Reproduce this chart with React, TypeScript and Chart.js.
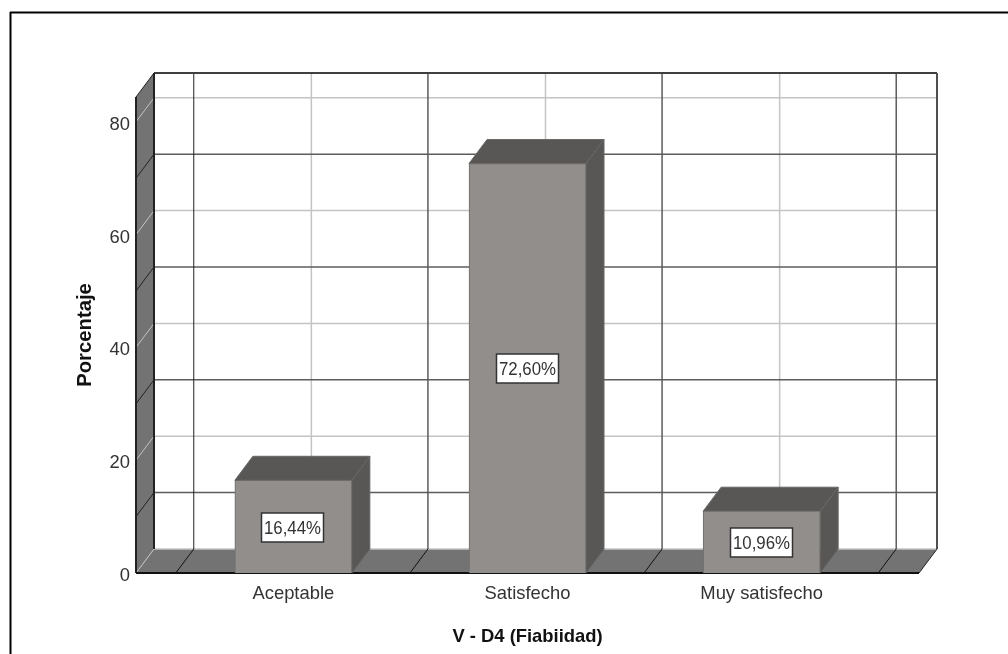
import React, { useEffect, useRef } from "react";
import { Chart, registerables } from "chart.js";

Chart.register(...registerables);

const categories = ["Aceptable", "Satisfecho", "Muy satisfecho"];
const percentages = [16.44, 72.6, 10.96];
const barLabels = ["16,44%", "72,60%", "10,96%"];
const yTickValues = [0, 20, 40, 60, 80];
const darkWallLines = [10, 30, 50, 70];
const lightWallLines = [20, 40, 60, 80];
const darkColumnLines = [-0.5, 0.5, 1.5, 2.5];
const lightColumnLines = [0, 1, 2];
const yTop = 84.4;
const xMin = -0.672;
const xMax = 2.672;
const xTitle = "V - D4 (Fiabiidad)";
const yTitle = "Porcentaje";

const DX = 18;
const DY = -24;
const FONT = "'Liberation Sans', Arial, sans-serif";
const WALL = "#737373";
const DARK = "#5c5c5c";
const LIGHT = "#c4c4c4";
const SHADE = "#595755";
const FACE = "#928e8c";
const EDGE = "#6e6b69";

function line(ctx: CanvasRenderingContext2D, x1: number, y1: number, x2: number, y2: number, color: string, width: number) {
  ctx.strokeStyle = color;
  ctx.lineWidth = width;
  ctx.beginPath();
  ctx.moveTo(x1, y1);
  ctx.lineTo(x2, y2);
  ctx.stroke();
}

function quad(ctx: CanvasRenderingContext2D, pts: number[][], fill: string, stroke?: string) {
  ctx.beginPath();
  pts.forEach((p, i) => (i ? ctx.lineTo(p[0], p[1]) : ctx.moveTo(p[0], p[1])));
  ctx.closePath();
  ctx.fillStyle = fill;
  ctx.fill();
  if (stroke) {
    ctx.strokeStyle = stroke;
    ctx.lineWidth = 1;
    ctx.stroke();
  }
}

const box3d = {
  id: "box3d",
  beforeDatasetsDraw(chart: any) {
    const { ctx, scales } = chart;
    const { x, y } = scales;
    const L = x.getPixelForValue(xMin);
    const R = x.getPixelForValue(xMax);
    const B = y.getPixelForValue(0);
    const T = y.getPixelForValue(yTop);
    ctx.save();
    // outer frame (open at right and bottom)
    line(ctx, 10.5, 12, 10.5, chart.height, "#000", 2);
    line(ctx, 10, 12.5, chart.width, 12.5, "#000", 2);
    // walls
    quad(ctx, [[L, T], [L + DX, T + DY], [L + DX, B + DY], [L, B]], WALL);
    quad(ctx, [[L, B], [L + DX, B + DY], [R + DX, B + DY], [R, B]], WALL);
    // back wall grid
    lightColumnLines.forEach((c) => {
      const px = x.getPixelForValue(c) + DX;
      line(ctx, px, T + DY, px, B + DY, LIGHT, 1.5);
    });
    lightWallLines.forEach((v) => {
      const py = y.getPixelForValue(v);
      line(ctx, L + DX, py + DY, R + DX, py + DY, LIGHT, 1.5);
      line(ctx, L, py, L + DX, py + DY, LIGHT, 1);
    });
    line(ctx, L + DX, B + DY, R + DX, B + DY, LIGHT, 1.5);
    line(ctx, L, B, L + DX, B + DY, LIGHT, 1);
    darkWallLines.forEach((v) => {
      const py = y.getPixelForValue(v);
      line(ctx, L + DX, py + DY, R + DX, py + DY, DARK, 1.5);
      line(ctx, L, py, L + DX, py + DY, "#222", 1);
    });
    darkColumnLines.forEach((c, i) => {
      const px = x.getPixelForValue(c) - 0.5;
      line(ctx, px + DX, T + DY, px + DX, B + DY, i === 0 ? "#222" : DARK, i === 0 ? 1 : 1.5);
      line(ctx, px, B, px + DX, B + DY, "#111", 1);
    });
    // box edges
    line(ctx, L + DX, T + DY, R + DX, T + DY, "#404040", 2);
    line(ctx, L + DX, T + DY, L + DX, B + DY, "#222", 2);
    line(ctx, R + DX, T + DY, R + DX, B + DY, "#505050", 2);
    line(ctx, L, T, L, B, "#222", 2);
    line(ctx, L, T, L + DX, T + DY, "#222", 1);
    line(ctx, L, B, R, B, "#111", 2);
    line(ctx, R, B, R + DX, B + DY, "#222", 1);
    // bar top and side faces
    chart.getDatasetMeta(0).data.forEach((bar: any) => {
      const half = bar.width / 2;
      const l = bar.x - half;
      const r = bar.x + half;
      const t = bar.y;
      const b = bar.base;
      quad(ctx, [[r, t], [r + DX, t + DY], [r + DX, b + DY], [r, b]], SHADE, "#666");
      quad(ctx, [[l, t], [l + DX, t + DY], [r + DX, t + DY], [r, t]], SHADE, "#666");
    });
    ctx.restore();
  },
  afterDatasetsDraw(chart: any) {
    const { ctx } = chart;
    ctx.save();
    ctx.font = `18.4px ${FONT}`;
    ctx.textAlign = "center";
    ctx.textBaseline = "middle";
    chart.getDatasetMeta(0).data.forEach((bar: any, i: number) => {
      const text = barLabels[i];
      const w = 62;
      const h = 29;
      const cy = Math.round((bar.y + bar.base) / 2) + 0.5;
      const cx = Math.round(bar.x) - 0.5;
      ctx.fillStyle = "#fff";
      ctx.fillRect(cx - w / 2, cy - h / 2, w, h);
      ctx.strokeStyle = "#333";
      ctx.lineWidth = 1.5;
      ctx.strokeRect(cx - w / 2, cy - h / 2, w, h);
      ctx.fillStyle = "#333";
      ctx.fillText(text, cx, cy + 1, 57);
    });
    ctx.restore();
  },
};

export default function App() {
  const ref = useRef<HTMLCanvasElement>(null);
  useEffect(() => {
    const chart = new Chart(ref.current!, {
      type: "bar",
      data: {
        datasets: [
          {
            label: "Porcentaje",
            data: percentages.map((v, i) => ({ x: i, y: v })),
            backgroundColor: FACE,
            borderColor: EDGE,
            borderWidth: 1,
            barThickness: 117,
          },
        ],
      },
      plugins: [box3d],
      options: {
        animation: false,
        responsive: false,
        layout: { padding: { top: 97, right: 89, left: 0, bottom: 0 } },
        plugins: { legend: { display: false }, tooltip: { enabled: false } },
        scales: {
          x: {
            type: "linear",
            offset: false,
            min: xMin,
            max: xMax,
            afterBuildTicks: (s: any) => {
              s.ticks = categories.map((_, i) => ({ value: i }));
            },
            afterFit: (s: any) => {
              s.height = 81;
            },
            grid: { display: false, drawTicks: false },
            border: { display: false },
            ticks: {
              padding: 10,
              color: "#333",
              maxRotation: 0,
              autoSkip: false,
              font: { family: FONT, size: 18.4 },
              callback: (v: any) => categories[v] ?? "",
            },
            title: {
              display: true,
              text: xTitle,
              color: "#111",
              font: { family: FONT, size: 18.4, weight: "bold" },
              padding: { top: 6, bottom: 6 },
            },
          },
          y: {
            type: "linear",
            min: 0,
            max: yTop,
            afterBuildTicks: (s: any) => {
              s.ticks = yTickValues.map((value) => ({ value }));
            },
            afterFit: (s: any) => {
              s.width = 136;
            },
            grid: { display: false, drawTicks: false },
            border: { display: false },
            ticks: {
              padding: 6,
              labelOffset: 3,
              color: "#333",
              font: { family: FONT, size: 18.4 },
            },
            title: {
              display: true,
              text: yTitle,
              color: "#111",
              font: { family: FONT, size: 20.3, weight: "bold" },
              padding: { top: 73, bottom: 0 },
            },
          },
        },
      },
    } as any);
    return () => chart.destroy();
  }, []);
  return (
    <div style={{ position: "fixed", left: 0, top: 0, width: 1008, height: 654, background: "#fff" }}>
      <canvas ref={ref} width={1008} height={654} style={{ display: "block" }} />
    </div>
  );
}
